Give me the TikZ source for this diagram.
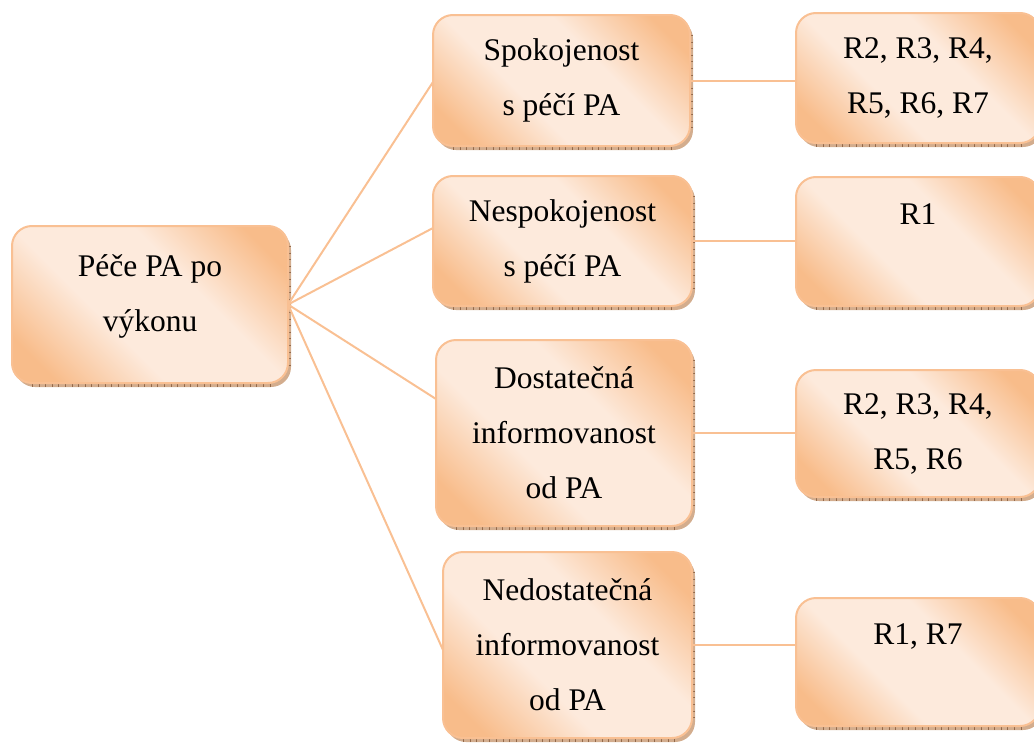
\documentclass[tikz,border=0pt]{standalone}
\usepackage{fontspec}
\setmainfont{Liberation Serif}
\definecolor{po}{HTML}{F8BC8A}
\definecolor{pl}{HTML}{FDEADC}
\definecolor{pb}{HTML}{F9C093}
\definecolor{sh}{HTML}{D3AD8E}
\definecolor{tk}{HTML}{93694A}
\pgfdeclareverticalshading{pash}{100bp}{color(0bp)=(po); color(22bp)=(po); color(40bp)=(pl); color(60bp)=(pl); color(78bp)=(po); color(100bp)=(po)}
\tikzset{
  pbox/.style={rounded corners=20pt, draw=pb, line width=2pt, shade, shading=pash, shading angle=-45,
    inner sep=0pt, outer sep=0pt, align=center, font=\fontsize{31.5}{55}\selectfont},
  ptext/.style={inner sep=0pt, align=center, font=\fontsize{31.5}{55}\selectfont},
  conn/.style={draw=pb, line width=2pt},
  shadowfill/.style={fill=sh, rounded corners=20pt},
  ticks/.style={draw=tk, line width=2.6pt, dash pattern=on 0.6pt off 6pt}
}
\newcommand\pabox[6]{%
  \fill[shadowfill] (#2+3,#3+4) rectangle (#4+3,#5+4);
  \draw[ticks] (#2+20,#5+2.6) -- (#4-16,#5+2.6);
  \draw[ticks] (#4+1.6,#3+20) -- (#4+1.6,#5-16);
  \node[pbox, minimum width={(#4-#2)*1pt}, minimum height={(#5-#3)*1pt}] (#1) at ({(#2+#4)/2},{(#3+#5)/2}) {#6};
}
\begin{document}
\begin{tikzpicture}[x=1pt,y=-1pt]
\useasboundingbox (0,0) rectangle (1034,744);
\clip (0,0) rectangle (1034,744);
% boxes
\pabox{root}{12}{226}{288}{383}{}
\node[ptext] (roottext) at (150,296) {Péče PA po\\výkonu};
\pabox{s1}{433}{15}{690}{146}{Spokojenost\\s péčí PA}
\pabox{s2}{433}{176}{692}{306}{Nespokojenost\\s péčí PA}
\pabox{s3}{436}{340}{692}{526}{Dostatečná\\informovanost\\od PA}
\pabox{s4}{443}{552}{692}{738}{Nedostatečná\\informovanost\\od PA}
\pabox{r1}{796}{13}{1040}{143}{R2, R3, R4,\\R5, R6, R7}
\pabox{r2}{796}{177}{1040}{306}{R1\\\mbox{}}
\pabox{r3}{796}{370}{1040}{497}{R2, R3, R4,\\R5, R6}
\pabox{r4}{796}{598}{1040}{726}{R1, R7\\\mbox{}}
% connector end points
\coordinate (c1) at (433,82);
\coordinate (c2) at (433,228);
\coordinate (c3) at (436,399);
\coordinate (c4) at (443,650);
\draw[conn] (root.east) -- (c1);
\draw[conn] (root.east) -- (c2);
\draw[conn] (root.east) -- (c3);
\draw[conn] (root.east) -- (c4);
\draw[conn] (s1.east) -- (s1.east -| r1.west);
\draw[conn] (s2.east) -- (s2.east -| r2.west);
\draw[conn] (s3.east) -- (s3.east -| r3.west);
\draw[conn] (s4.east) -- (s4.east -| r4.west);
\end{tikzpicture}
\end{document}
